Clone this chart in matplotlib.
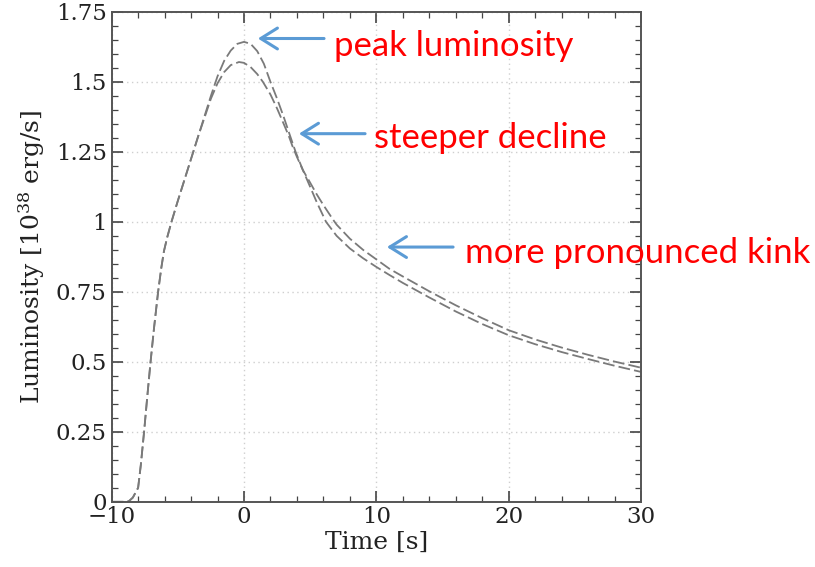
import matplotlib
matplotlib.use("Agg")
import matplotlib.pyplot as plt
from matplotlib.ticker import MultipleLocator, FuncFormatter

# ---- data ----
t_a = [-10, -9.5, -9, -8.7, -8.4, -8.0, -7.8, -7.55, -7.3, -7.06, -6.8, -6.49, -6.25,
       -6.05, -5.8, -5.48, -5.0, -4.5, -4.0, -3.5, -3.0, -2.5, -2.0, -1.5, -1.0, -0.5,
       0.0, 0.5, 1.0, 1.5, 2.0, 2.5, 3.0, 3.5, 3.9, 4.45, 5.0, 5.5, 6.2, 7.0, 8.0, 9.0,
       10, 11, 12, 14, 16, 18, 20, 22, 24, 26, 28, 30]
lum_a = [0, 0, 0, 0.002, 0.015, 0.05, 0.13, 0.25, 0.38, 0.5, 0.62, 0.75, 0.835,
         0.895, 0.945, 1.0, 1.075, 1.15, 1.225, 1.3, 1.375, 1.45, 1.52, 1.575, 1.612, 1.636,
         1.643, 1.636, 1.61, 1.565, 1.5, 1.44, 1.375, 1.305, 1.25, 1.185, 1.125, 1.07, 1.0, 0.95, 0.905, 0.87,
         0.839, 0.81, 0.782, 0.73, 0.68, 0.635, 0.595, 0.563, 0.535, 0.51, 0.486, 0.464]

t_b = [-10, -9.5, -9, -8.7, -8.4, -8.0, -7.8, -7.55, -7.3, -7.06, -6.8, -6.49, -6.25,
       -6.05, -5.8, -5.48, -5.0, -4.5, -4.0, -3.5, -3.0, -2.5, -2.0, -1.5, -1.0, -0.38,
       0.0, 0.5, 1.0, 1.43, 2.0, 2.5, 3.0, 3.4, 3.65, 4.0, 4.45, 5.0, 5.5, 6.0, 6.7, 7.0, 8.0, 9.0,
       10, 11, 12, 14, 16, 18, 20, 22, 24, 26, 28, 30]
lum_b = [0, 0, 0, 0.002, 0.015, 0.05, 0.13, 0.25, 0.38, 0.5, 0.62, 0.75, 0.835,
         0.895, 0.945, 1.0, 1.075, 1.15, 1.225, 1.3, 1.37, 1.44, 1.495, 1.535, 1.56, 1.571,
         1.568, 1.553, 1.528, 1.5, 1.455, 1.405, 1.35, 1.305, 1.272, 1.232, 1.185, 1.14, 1.098, 1.06, 1.01, 0.99, 0.94, 0.9,
         0.866, 0.832, 0.805, 0.752, 0.702, 0.656, 0.613, 0.58, 0.551, 0.525, 0.501, 0.479]

annotations = ["peak luminosity", "steeper decline", "more pronounced kink"]
arrow_tips = [(1.05, 1.655), (4.15, 1.315), (10.8, 0.91)]
text_pos = [(6.8, 1.628), (9.8, 1.3), (16.7, 0.89)]

xticks = [-10, 0, 10, 20, 30]
yticks = [0, 0.25, 0.5, 0.75, 1.0, 1.25, 1.5, 1.75]

# ---- plot ----
plt.rcParams['font.family'] = ['DejaVu Serif']
plt.rcParams['mathtext.fontset'] = 'dejavuserif'

fig = plt.figure(figsize=(8.15, 5.67), dpi=100)
ax = fig.add_axes([0.137, 0.115, 0.6495, 0.864])

line_kw = dict(color='#7a7a7a', lw=1.3, dashes=(6.5, 2.3))
ax.plot(t_a, lum_a, **line_kw)
ax.plot(t_b, lum_b, **line_kw)

ax.set_xlim(-10, 30)
ax.set_ylim(0, 1.75)
ax.set_xticks(xticks)
ax.set_yticks(yticks)
ax.xaxis.set_minor_locator(MultipleLocator(2))
ax.yaxis.set_minor_locator(MultipleLocator(0.05))

def fmt(v, pos):
    s = ('%g' % v)
    return s.replace('-', '\u2212')
ax.xaxis.set_major_formatter(FuncFormatter(fmt))
ax.yaxis.set_major_formatter(FuncFormatter(fmt))

ax.tick_params(which='both', direction='in', top=True, right=True, colors='#444444',
               labelcolor='#222222', labelsize=16.5)
ax.tick_params(which='major', length=8, width=1.2)
ax.tick_params(which='minor', length=4, width=0.9)
ax.tick_params(axis='x', pad=3)
for s in ax.spines.values():
    s.set_color('#555555')
    s.set_linewidth(1.4)

ax.grid(True, which='major', color='#cfcfcf', linestyle=(0, (1, 2.5)), lw=1.0)
ax.set_axisbelow(True)

ax.set_xlabel('Time [s]', fontsize=18, color='#222222', labelpad=2)
ax.set_ylabel(r'Luminosity [10$^{38}$ erg/s]', fontsize=18, color='#222222', labelpad=6)

for txt, tip, tp in zip(annotations, arrow_tips, text_pos):
    ax.annotate('', xy=tip, xytext=(tip[0] + 5.0, tip[1]),
                arrowprops=dict(arrowstyle='->,head_length=0.8,head_width=0.5',
                                mutation_scale=15,
                                color='#5b9bd5', lw=2.2, shrinkA=0, shrinkB=0))
    ax.text(tp[0], tp[1], txt, color='#ff0000', fontsize=25, family=['Lato', 'DejaVu Sans'],
            va='center', ha='left', clip_on=False)

fig.savefig('out.png', dpi=100)
